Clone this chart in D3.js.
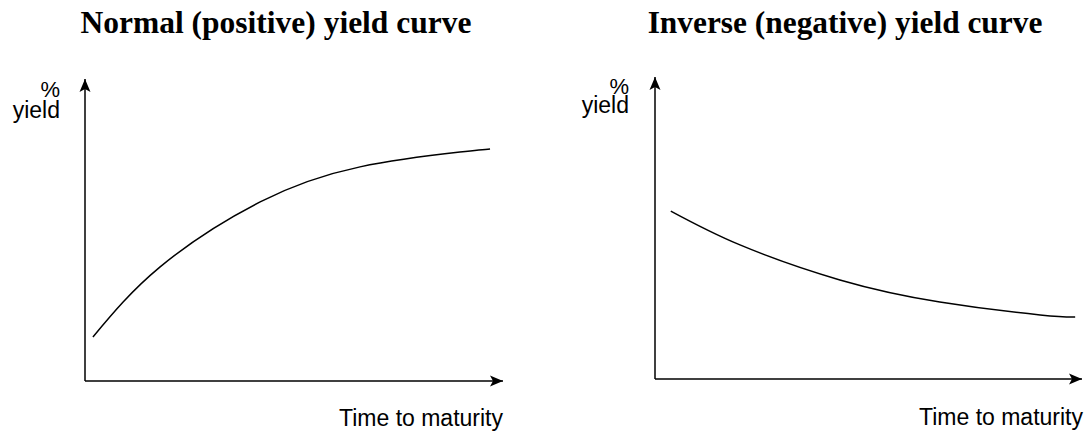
<!DOCTYPE html>
<html>
<head>
<meta charset="utf-8">
<script src="https://cdn.jsdelivr.net/npm/d3@7"></script>
<style>
  body { margin: 0; background: #fff; }
</style>
</head>
<body>
<svg width="1088" height="432"></svg>
<script>

// datos (unidades relativas 0..10)
let titles = ["Normal (positive) yield curve", "Inverse (negative) yield curve"];
let xLabel = "Time to maturity";
let yLabel = ["%", "yield"];

let normalTime  = [0.19, 1.79, 4.19, 6.58, 8.97, 9.69];
let normalYield = [1.46, 3.77, 5.93, 7.09, 7.58, 7.68];

let inverseTime  = [0.37, 1.99, 4.33, 6.67, 9.02, 9.84];
let inverseYield = [5.56, 4.44, 3.28, 2.55, 2.12, 2.05];

let svg = d3.select('svg');

// punta de flecha
svg.append('defs').append('marker')
    .attr('id', 'arrow')
    .attr('markerUnits', 'userSpaceOnUse')
    .attr('markerWidth', 16)
    .attr('markerHeight', 12)
    .attr('refX', 13)
    .attr('refY', 6)
    .attr('orient', 'auto')
    .append('path')
    .attr('d', 'M0,0.5 L13,6 L0,11.5 L3,6 Z')
    .attr('fill', '#000');

// paneles: origen y fin de ejes en pixeles
let panels = [
    {x0: 85,  x1: 503,  y0: 381, y1: 79, title: titles[0], time: normalTime,  yld: normalYield,
     titleX: 276, titleW: 391, pctX: 60, pctY: 97, yieldY: 118, labX: 503, labY: 426},
    {x0: 655, x1: 1082, y0: 379, y1: 77, title: titles[1], time: inverseTime, yld: inverseYield,
     titleX: 845, titleW: 395, pctX: 629, pctY: 94, yieldY: 113, labX: 1083, labY: 425}
];

panels.forEach(function (p) {
    let g = svg.append('g');

    let x = d3.scaleLinear().domain([0, 10]).range([p.x0, p.x1]);
    let y = d3.scaleLinear().domain([0, 10]).range([p.y0, p.y1]);

    // titulo (se ajusta el tamaño al ancho del original)
    let t = g.append('text')
        .attr('x', p.titleX)
        .attr('y', 33)
        .attr('text-anchor', 'middle')
        .style('font-family', 'Liberation Serif, serif')
        .style('font-weight', 'bold')
        .style('font-size', '27px')
        .text(p.title);
    let w = t.node().getComputedTextLength();
    t.style('font-size', (27 * p.titleW / w) + 'px');

    // ejes con flecha
    g.append('line')
        .attr('x1', x(0)).attr('y1', y(0))
        .attr('x2', x(10)).attr('y2', y(0))
        .attr('stroke', '#000').attr('stroke-width', 1.5)
        .attr('marker-end', 'url(#arrow)');
    g.append('line')
        .attr('x1', x(0)).attr('y1', y(0))
        .attr('x2', x(0)).attr('y2', y(10))
        .attr('stroke', '#000').attr('stroke-width', 1.5)
        .attr('marker-end', 'url(#arrow)');

    // etiquetas
    g.append('text')
        .attr('x', p.pctX).attr('y', p.pctY)
        .attr('text-anchor', 'end')
        .style('font-family', 'Liberation Sans, Arial, sans-serif')
        .style('font-size', '22px')
        .text(yLabel[0]);
    g.append('text')
        .attr('x', p.pctX).attr('y', p.yieldY)
        .attr('text-anchor', 'end')
        .style('font-family', 'Liberation Sans, Arial, sans-serif')
        .style('font-size', '23px')
        .text(yLabel[1]);
    g.append('text')
        .attr('x', p.labX).attr('y', p.labY)
        .attr('text-anchor', 'end')
        .style('font-family', 'Liberation Sans, Arial, sans-serif')
        .style('font-size', '23px')
        .text(xLabel);

    // curva
    let line = d3.line()
        .x(function (d, i) { return x(p.time[i]); })
        .y(function (d, i) { return y(p.yld[i]); })
        .curve(d3.curveNatural);

    g.append('path')
        .datum(p.time)
        .attr('d', line)
        .attr('fill', 'none')
        .attr('stroke', '#000')
        .attr('stroke-width', 1.5);
});

</script>
</body>
</html>
